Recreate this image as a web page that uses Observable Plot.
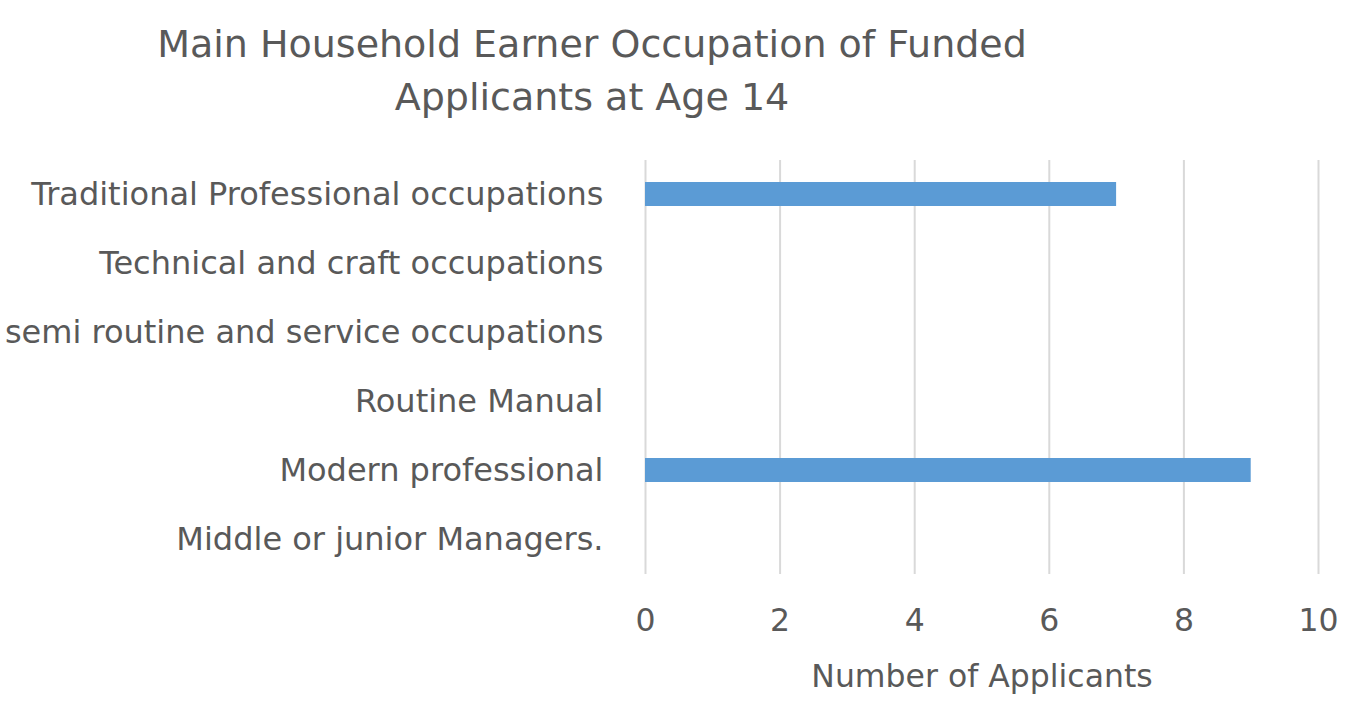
<!DOCTYPE html>
<html>
<head>
<meta charset="utf-8">
<script src="https://cdn.jsdelivr.net/npm/d3@7"></script>
<script src="https://cdn.jsdelivr.net/npm/@observablehq/plot@0.6"></script>
<style>
  html, body { margin: 0; padding: 0; background: #fff; }
  #wrap { width: 1356px; height: 714px; position: relative; font-family: "DejaVu Sans", sans-serif; color: #595959; }
  #title { position: absolute; left: 0; top: 18px; width: 1184px; text-align: center; font-size: 38px; line-height: 53px; }
  #chart { position: absolute; left: 0; top: 140px; }
</style>
</head>
<body>
<div id="wrap">
  <div id="title">Main Household Earner Occupation of Funded<br>Applicants at Age 14</div>
  <div id="chart"></div>
</div>
<script>
const categories = [
  "Traditional Professional occupations",
  "Technical and craft occupations",
  "semi routine and service occupations",
  "Routine Manual",
  "Modern professional",
  "Middle or junior Managers."
];
const applicants = [7, 0, 0, 0, 9, 0];
const xTicks = [0, 2, 4, 6, 8, 10];
const axisTitle = "Number of Applicants";

const data = categories.map((c, i) => ({category: c, value: applicants[i]}));

const plot = Plot.plot({
  width: 1356,
  height: 574,
  marginLeft: 645,
  marginRight: 38,
  marginTop: 20,
  marginBottom: 140,
  style: {fontFamily: "'DejaVu Sans', sans-serif", color: "#595959", background: "#fff"},
  x: {domain: [0, 10]},
  y: {domain: categories, paddingInner: 0.65, paddingOuter: 0.325},
  marks: [
    Plot.gridX(xTicks, {stroke: "#d9d9d9", strokeOpacity: 1, strokeWidth: 2}),
    Plot.barX(data, {x: "value", y: "category", fill: "#5b9bd5", insetTop: 0, insetBottom: 0}),
    Plot.axisY({tickSize: 0, tickPadding: 42, fontSize: 32, fill: "#595959", label: null}),
    Plot.axisX({ticks: xTicks, tickSize: 0, tickPadding: 34, fontSize: 31.5, fill: "#595959",
      label: axisTitle, labelAnchor: "center", labelOffset: 112, labelArrow: "none"})
  ]
});
document.getElementById("chart").appendChild(plot);
</script>
</body>
</html>
